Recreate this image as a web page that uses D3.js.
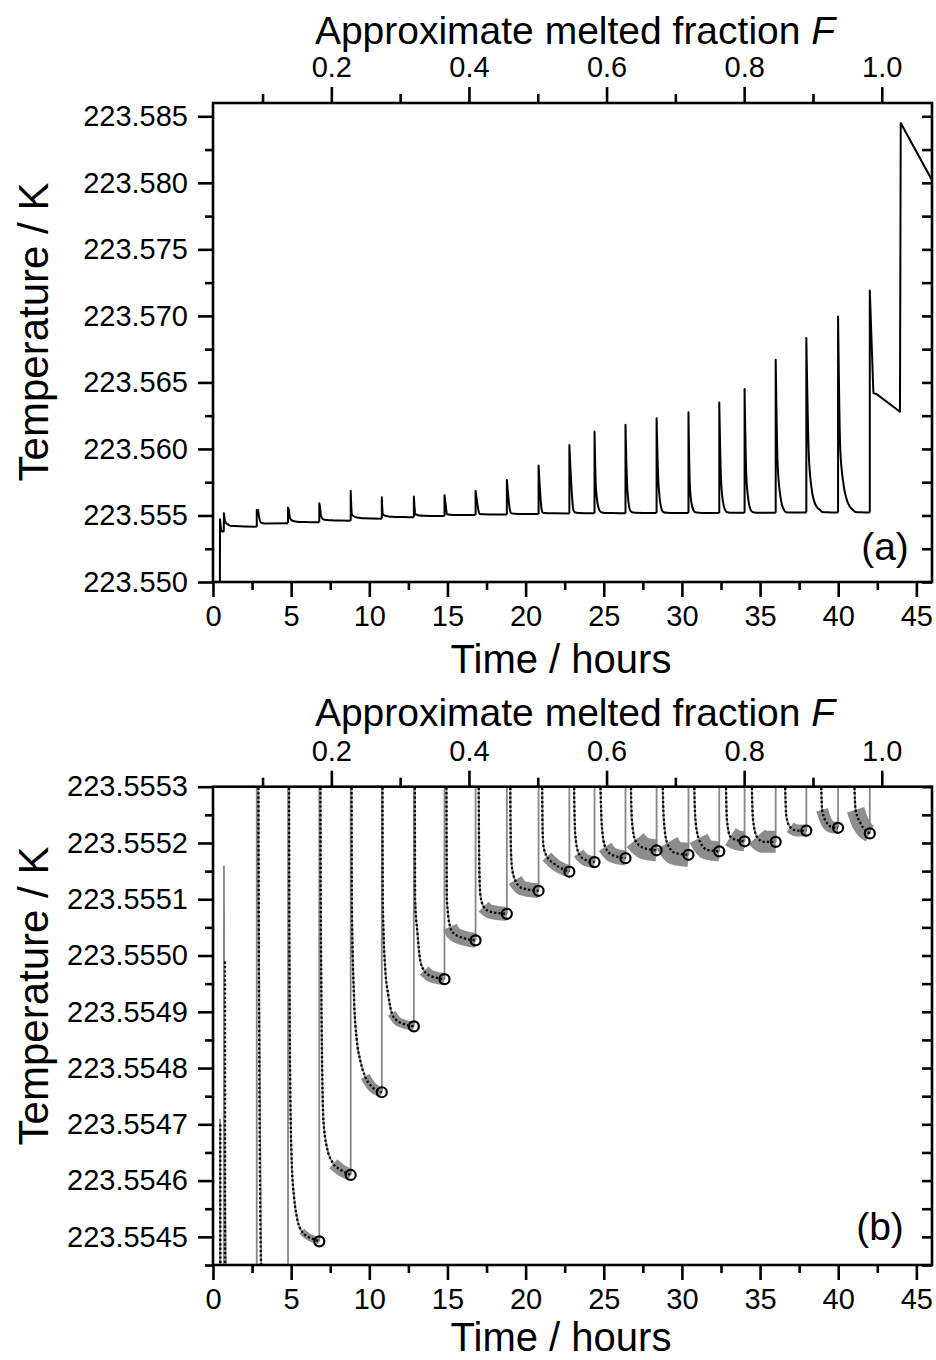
<!DOCTYPE html>
<html><head><meta charset="utf-8">
<script src="https://cdn.jsdelivr.net/npm/d3@7"></script>
<style>
body{margin:0;background:#fff}
text{font-family:"Liberation Sans",Arial,Helvetica,sans-serif;fill:#000}
</style>
</head><body>
<svg id="c" width="936" height="1360" xmlns="http://www.w3.org/2000/svg"></svg>
<script>
// ---------------- DATA ----------------
const timeTicks = [0,5,10,15,20,25,30,35,40,45];
const timeMinor = [2.5,7.5,12.5,17.5,22.5,27.5,32.5,37.5,42.5];
const timeDomain = [0,46];
const fracTicks = [0.2,0.4,0.6,0.8,1.0];
const fracMinor = [0.1,0.3,0.5,0.7,0.9];
const fracDomain = [0.028,1.073];            // melted fraction at t = 0 h and t = 46 h
const tempTicksA = [223.550,223.555,223.560,223.565,223.570,223.575,223.580,223.585];
const tempMinorA = [223.5525,223.5575,223.5625,223.5675,223.5725,223.5775,223.5825];
const tempDomainA = [223.550,223.586];
const tempTicksB = [223.5545,223.5546,223.5547,223.5548,223.5549,223.5550,223.5551,223.5552,223.5553];
const tempMinorB = [223.55445,223.55455,223.55465,223.55475,223.55485,223.55495,223.55505,223.55515,223.55525];
const tempDomainB = [223.55445,223.5553];

// initial part of the trace (before the first regular heat pulse)
const startTrace = [[0.44,223.5490],[0.45,223.55471],[0.52,223.5539],[0.60,223.55378],[0.69,223.55382],
  [0.70,223.55516],[0.76,223.5546],[0.85,223.5544],[1.10,223.55422],[2.0,223.55418],[2.8,223.55416]];
// early fitted segments (dotted) in panel b
const startFits = [[[0.47,223.5540],[0.47,223.55470]],[[0.77,223.5540],[0.77,223.55499]]];

// heat pulses: time and peak temperature seen in panel (a)
const pulseTimes = [2.8,4.8,6.80,8.81,10.80,12.85,14.81,16.80,18.80,20.83,22.80,24.41,26.39,28.38,30.42,32.39,34.01,36.00,37.96,39.99,42.02];
const peakTemps  = [223.55542,223.55559,223.55592,223.55685,223.55637,223.55642,223.55652,223.55685,223.55767,223.55875,
  223.56029,223.56131,223.56181,223.56231,223.56276,223.56349,223.5645,223.5667,223.56833,223.56996,223.57191];
// steep part of the larger spikes (panel a)
const kneePoints = [[24.50,223.5570],[26.50,223.5572],[28.50,223.5574],
  [30.50,223.5575],[30.60,223.5560],[32.50,223.5578],[32.62,223.5561],
  [34.12,223.5580],[34.25,223.5562],[36.12,223.5590],[36.28,223.5566],[36.40,223.5558],
  [38.12,223.5595],[38.30,223.5570],[38.55,223.5558],[40.13,223.5600],[40.32,223.5575],[40.60,223.5560]];
// relaxation after each pulse (fitted curve, ends at the circled value)
const relax = [
  [[2.90,223.5554],[2.92,223.5551],[3.08,223.55445],[3.3,223.5544],[4.8,223.55441]],
  [[4.86,223.5554],[4.88,223.5551],[4.93,223.5548],[5.04,223.55463],[5.19,223.55457],[5.40,223.55453],[5.68,223.55451],[6.10,223.5545],[6.53,223.554495],[6.80,223.554492]],
  [[6.87,223.5554],[6.89,223.5551],[7.06,223.55471],[7.28,223.55466],[7.70,223.55463],[8.13,223.55462],[8.81,223.55461]],
  [[8.86,223.5554],[8.88,223.5551],[9.03,223.55492],[9.20,223.55485],[9.41,223.554815],[9.73,223.554785],[10.16,223.554767],[10.80,223.554757]],
  [[10.84,223.5554],[10.86,223.5551],[11.01,223.55498],[11.23,223.554927],[11.44,223.5548975],[11.76,223.5548845],[12.19,223.5548785],[12.85,223.554874]],
  [[12.91,223.5554],[12.93,223.5551],[13.08,223.55504],[13.25,223.554992],[13.51,223.554973],[13.89,223.554964],[14.81,223.554958]],
  [[14.93,223.5554],[14.96,223.5551],[15.17,223.555051],[15.38,223.55504],[16.02,223.555031],[16.80,223.555027]],
  [[16.98,223.5554],[17.02,223.5552],[17.09,223.555111],[17.31,223.555087],[17.73,223.555078],[18.80,223.555074]],
  [[19.00,223.5554],[19.05,223.5552],[19.12,223.555158],[19.33,223.555134],[19.76,223.55512],[20.83,223.555115]],
  [[21.03,223.5554],[21.09,223.55522],[21.15,223.555193],[21.36,223.555176],[21.79,223.555164],[22.80,223.555149]],
  [[23.06,223.5554],[23.17,223.555217],[23.39,223.555182],[23.82,223.55517],[24.41,223.555166]],
  [[24.72,223.5554],[24.88,223.555229],[25.09,223.555193],[25.52,223.555179],[26.39,223.555173]],
  [[26.68,223.5554],[26.80,223.555241],[27.01,223.555205],[27.55,223.555191],[28.38,223.555187]],
  [[28.72,223.5554],[28.83,223.555247],[29.05,223.5552],[29.58,223.555182],[30.42,223.555179]],
  [[30.74,223.5554],[30.85,223.555247],[31.07,223.555208],[31.60,223.555188],[32.39,223.555185]],
  [[32.77,223.5554],[32.88,223.555241],[33.10,223.555211],[33.52,223.555205],[34.01,223.555203]],
  [[34.41,223.5554],[34.55,223.555241],[34.80,223.555211],[35.23,223.555202],[36.00,223.555202]],
  [[36.54,223.5554],[36.68,223.555247],[36.93,223.555228],[37.36,223.555222],[37.96,223.555222]],
  [[38.85,223.5554],[38.97,223.555259],[39.29,223.555235],[39.61,223.555228],[39.99,223.555227]],
  [[40.95,223.5554],[41.11,223.555259],[41.43,223.555235],[41.75,223.555222],[42.02,223.555217]]
];
// end of the run (after the last pulse)
const finalTrace = [[42.02,223.57191],[42.25,223.5642],[42.48,223.5641],[43.95,223.5628],[44.0,223.5845],[46.0,223.5802]];
// scatter of the measured data around each relaxation (pixel band width) and where it is visible
const noiseFrom  = [99,5.45,7.5,9.55,11.4,13.4,15.15,17.2,19.2,21.2,23.2,24.9,26.85,28.9,31.0,32.95,34.6,36.7,38.97,41.1];
const noiseWidth = [0,7,12,10,9,12,15,14,15,12,12,15,22,24,20,20,22,12,12,18];

// ---------------- LAYOUT ----------------
const L = 213, R = 932;
const svg = d3.select("#c");
const x = d3.scaleLinear().domain(timeDomain).range([L,R]);
const xf = d3.scaleLinear().domain(fracDomain).range([L,R]);
const panels = [
  {key:"a", top:103, bottom:582, domain:tempDomainA, major:tempTicksA, minor:tempMinorA, fmt:".3f",
   label:"(a)", labelX:885, labelY:560, topTitleY:44, xTitleY:673, yTitleY:332},
  {key:"b", top:786.7, bottom:1265, domain:tempDomainB, major:tempTicksB, minor:tempMinorB, fmt:".4f",
   label:"(b)", labelX:880, labelY:1240, topTitleY:726, xTitleY:1351, yTitleY:996}
];

const GRAY = "#878787";
const AXW = 2.6;
const TICKFONT = 29;
const TITLEFONT = 40;

function styleAxis(g, withText){
  g.select(".domain").remove();
  g.selectAll(".tick line").attr("stroke","#000").attr("stroke-width",AXW);
  if(withText) g.selectAll(".tick text").attr("font-size",TICKFONT).attr("fill","#000")
      .attr("font-family",'"Liberation Sans",Arial,sans-serif');
  else g.selectAll(".tick text").remove();
}

panels.forEach(p=>{
  const y = d3.scaleLinear().domain(p.domain).range([p.bottom,p.top]);
  const g = svg.append("g");
  const clipId = "clip-"+p.key;
  svg.append("clipPath").attr("id",clipId).append("rect")
    .attr("x",L).attr("y",p.top).attr("width",R-L).attr("height",p.bottom-p.top);
  const plot = g.append("g").attr("clip-path",`url(#${clipId})`);

  const mono = d3.line().x(d=>x(d[0])).y(d=>y(d[1])).curve(d3.curveMonotoneX);
  const lin  = d3.line().x(d=>x(d[0])).y(d=>y(d[1]));

  // build trace segments
  const segs = [lin(startTrace)];
  pulseTimes.forEach((tp,i)=>{
    const prevEnd = i===0 ? startTrace[startTrace.length-1][1] : relax[i-1][relax[i-1].length-1][1];
    if(i < relax.length){
      const knees = kneePoints.filter(k=>k[0]>tp && k[0]<relax[i][0][0]);
      const pts = [[tp,peakTemps[i]], ...knees, ...relax[i]];
      segs.push(`M${x(tp)},${y(prevEnd)}L` + mono(pts).slice(1));
    } else {
      segs.push(`M${x(tp)},${y(prevEnd)}L` + lin(finalTrace).slice(1));
    }
  });

  if(p.key==="a"){
    plot.selectAll("path.trace").data(segs).join("path").attr("class","trace")
      .attr("d",d=>d).attr("fill","none").attr("stroke","#000").attr("stroke-width",2)
      .attr("stroke-linejoin","round");
  } else {
    // measured data (gray)
    plot.selectAll("path.trace").data(segs).join("path").attr("class","trace")
      .attr("d",d=>d).attr("fill","none").attr("stroke",GRAY).attr("stroke-width",1.8);
    // scatter band
    relax.forEach((r,i)=>{
      if(!noiseWidth[i]) return;
      const pts = r.filter(d=>d[0]>=noiseFrom[i]);
      if(pts.length<2) return;
      plot.append("path").attr("d",mono(pts)).attr("fill","none").attr("stroke",GRAY)
        .attr("stroke-width",noiseWidth[i]).attr("stroke-linecap","butt").attr("opacity",0.95);
    });
    // fitted curves (dotted)
    startFits.forEach(f=>{
      plot.append("path").attr("d",lin(f)).attr("fill","none").attr("stroke","#000")
        .attr("stroke-width",2.3).attr("stroke-dasharray","2.2,2.2");
    });
    relax.forEach(r=>{
      plot.append("path").attr("d",mono(r)).attr("fill","none").attr("stroke","#000")
        .attr("stroke-width",2.3).attr("stroke-dasharray","2.2,2.2");
    });
    // circled end values
    const ends = relax.slice(1).map(r=>r[r.length-1]);
    plot.selectAll("circle.end").data(ends).join("circle").attr("class","end")
      .attr("cx",d=>x(d[0])).attr("cy",d=>y(d[1])).attr("r",5)
      .attr("fill","none").attr("stroke","#000").attr("stroke-width",2.2);
  }

  // frame
  g.append("rect").attr("x",L).attr("y",p.top).attr("width",R-L).attr("height",p.bottom-p.top)
    .attr("fill","none").attr("stroke","#000").attr("stroke-width",AXW);

  // left axis
  g.append("g").attr("transform",`translate(${L},0)`)
    .call(d3.axisLeft(y).tickValues(p.major).tickSize(15).tickPadding(10).tickFormat(d3.format(p.fmt)))
    .call(a=>styleAxis(a,true));
  g.append("g").attr("transform",`translate(${L},0)`)
    .call(d3.axisLeft(y).tickValues(p.minor).tickSize(8).tickFormat(""))
    .call(a=>styleAxis(a,false));
  // right axis (inward ticks)
  g.append("g").attr("transform",`translate(${R},0)`)
    .call(d3.axisRight(y).tickValues(p.major.concat(p.minor)).tickSize(-10).tickFormat(""))
    .call(a=>styleAxis(a,false));
  // bottom axis
  g.append("g").attr("transform",`translate(0,${p.bottom})`)
    .call(d3.axisBottom(x).tickValues(timeTicks).tickSize(15).tickPadding(8).tickFormat(d3.format("d")))
    .call(a=>styleAxis(a,true));
  g.append("g").attr("transform",`translate(0,${p.bottom})`)
    .call(d3.axisBottom(x).tickValues(timeMinor).tickSize(8).tickFormat(""))
    .call(a=>styleAxis(a,false));
  // top axis (melted fraction)
  g.append("g").attr("transform",`translate(0,${p.top})`)
    .call(d3.axisTop(xf).tickValues(fracTicks).tickSize(16).tickPadding(10).tickFormat(d3.format(".1f")))
    .call(a=>styleAxis(a,true));
  g.append("g").attr("transform",`translate(0,${p.top})`)
    .call(d3.axisTop(xf).tickValues(fracMinor).tickSize(9).tickFormat(""))
    .call(a=>styleAxis(a,false));

  // titles
  const tt = g.append("text").attr("x",575).attr("y",p.topTitleY).attr("text-anchor","middle").attr("font-size",39);
  tt.append("tspan").text("Approximate melted fraction ");
  tt.append("tspan").attr("font-style","italic").text("F");
  g.append("text").attr("x",561).attr("y",p.xTitleY).attr("text-anchor","middle").attr("font-size",TITLEFONT)
    .text("Time / hours");
  g.append("text").attr("transform",`translate(48,${p.yTitleY}) rotate(-90)`).attr("text-anchor","middle")
    .attr("font-size",42).text("Temperature / K");
  g.append("text").attr("x",p.labelX).attr("y",p.labelY).attr("text-anchor","middle").attr("font-size",39)
    .text(p.label);
});
</script>
</body></html>
